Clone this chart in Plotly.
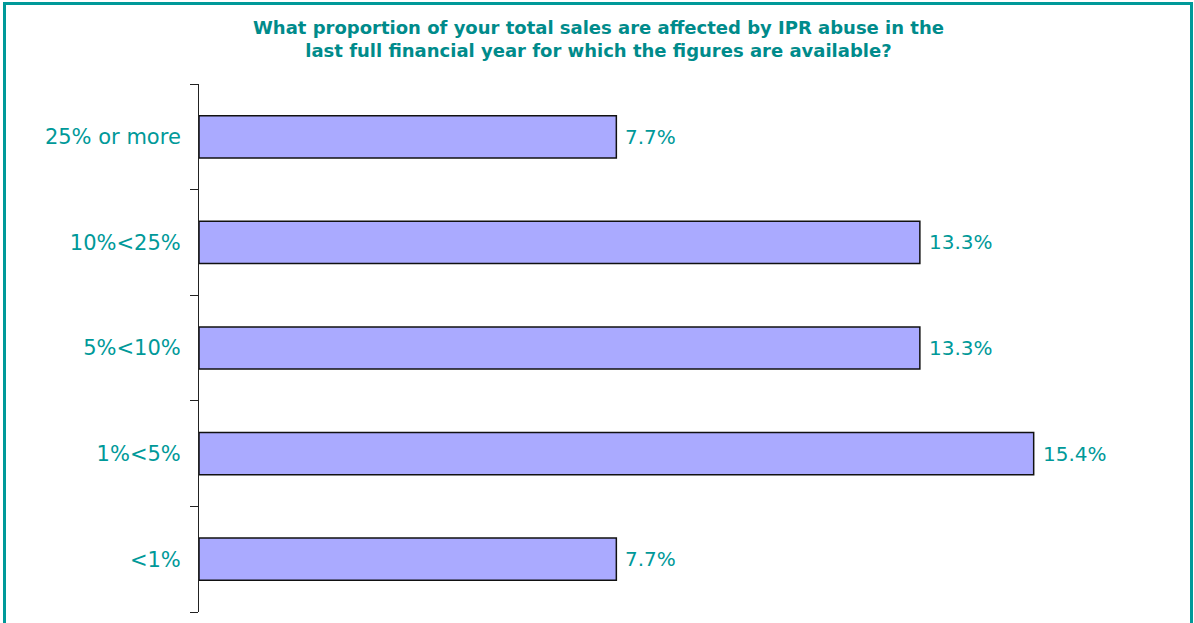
import plotly.graph_objects as go

categories = ["<1%", "1%<5%", "5%<10%", "10%<25%", "25% or more"]
values = [7.7, 15.4, 13.3, 13.3, 7.7]
title_text = ("What proportion of your total sales are affected by IPR abuse in the<br>"
              "last full financial year for which the figures are available?")

TEAL = "#009999"
W, H = 1194, 623
ML, MR, MT, MB = 199, 44, 84, 11
PW, PH = W - ML - MR, H - MT - MB

fig = go.Figure(go.Bar(
    x=values, y=categories, orientation="h",
    marker=dict(color="#AAAAFF", line=dict(color="#111111", width=1.5)),
    width=0.4, hoverinfo="skip",
))

for v, c in zip(values, categories):
    fig.add_annotation(x=v, y=c, text=f"{v:.1f}%", showarrow=False,
                       xanchor="left", xshift=7, yshift=0,
                       font=dict(family="DejaVu Sans", size=20, color=TEAL))

def px_x(px):
    return (px - ML) / PW

def px_y(py):
    return (H - MB - py) / PH

fig.add_annotation(xref="paper", yref="paper", x=px_x(598), y=px_y(16),
                   xanchor="center", yanchor="top", showarrow=False, text=title_text,
                   align="center", borderpad=0,
                   font=dict(family="DejaVu Sans", size=18, color="#008B8B", weight="bold"))

fig.add_shape(type="rect", xref="paper", yref="paper",
              x0=px_x(4.5), x1=px_x(1191.5), y0=px_y(630), y1=px_y(3.5),
              line=dict(color=TEAL, width=3), fillcolor="rgba(0,0,0,0)", layer="above")

fig.update_layout(
    width=W, height=H,
    margin=dict(l=ML, r=MR, t=MT, b=MB, pad=0),
    paper_bgcolor="white", plot_bgcolor="white",
    showlegend=False,
    xaxis=dict(visible=False, range=[0, PW / 54.2], fixedrange=True),
    yaxis=dict(categoryorder="array", categoryarray=categories, range=[-0.5, 4.5],
               showline=True, linecolor="#222222", linewidth=1,
               ticks="outside", tickson="boundaries", ticklen=8, tickcolor="#222222",
               ticklabelstandoff=13, showgrid=False, zeroline=False, fixedrange=True,
               tickfont=dict(family="DejaVu Sans", size=21, color=TEAL)),
)

fig.write_html("out.html", config={"displayModeBar": False},
               post_script="document.body.style.margin='0';document.body.style.overflow='hidden';")
